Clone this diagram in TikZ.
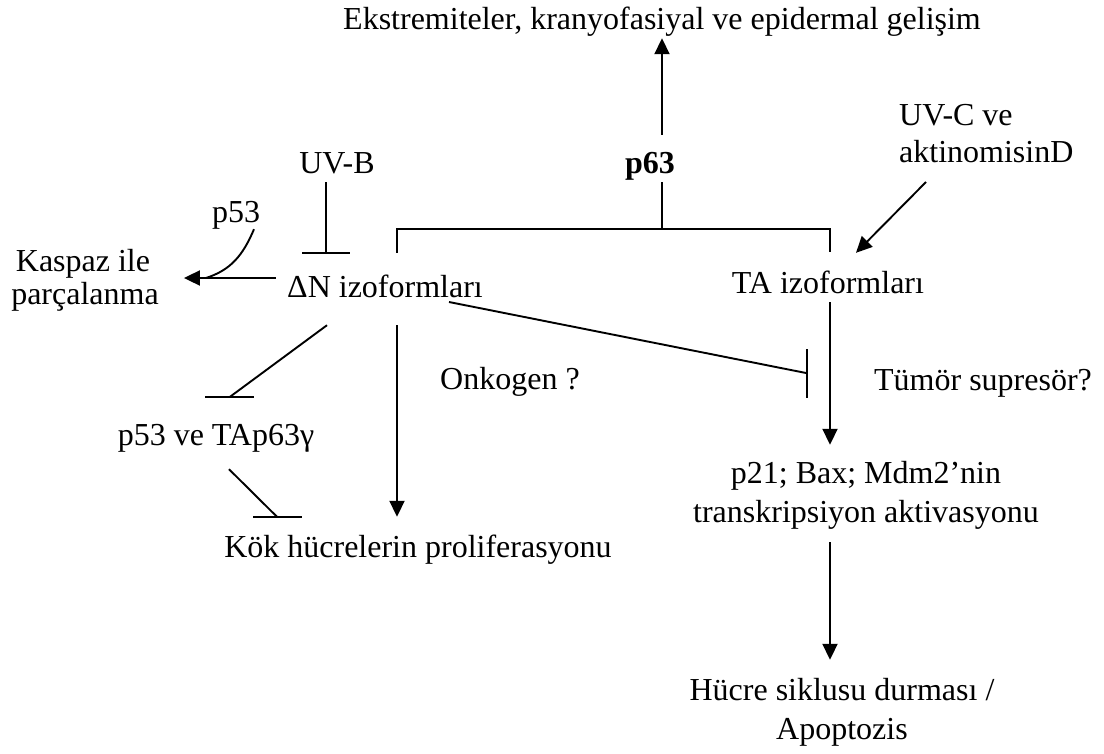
\documentclass[tikz,border=0pt]{standalone}
\usepackage{fontspec}
\setmainfont{Liberation Serif}
\usetikzlibrary{arrows.meta,calc}
\begin{document}
\begin{tikzpicture}[x=1pt,y=-1pt,
  txt/.style={font=\fontsize{32}{37}\selectfont, inner sep=0pt, text height=22pt, text depth=7pt, anchor=base},
  conn/.style={line width=1.9pt},
  arr/.style={conn, -{Triangle[length=16pt,width=15pt]}}]
\useasboundingbox (0,0) rectangle (1104,753);
% text nodes
\node[txt] (title) at (662,29) {Ekstremiteler, kranyofasiyal ve epidermal gelişim};
\node[txt,font=\fontsize{32}{37}\selectfont\bfseries] (p63) at (650,173) {p63};
\node[txt] (uvb) at (337,173) {UV-B};
\node[txt] (p53top) at (236,222) {p53};
\node[txt] (kaspaz1) at (83,271) {Kaspaz ile};
\node[txt] (kaspaz2) at (85,304) {parçalanma};
\node[txt] (dn) at (385,297) {ΔN izoformları};
\node[txt] (ta) at (828,293) {TA izoformları};
\node[txt,anchor=base west] (uvc1) at (899,125) {UV-C ve};
\node[txt,anchor=base west] (uvc2) at (899,162) {aktinomisinD};
\node[txt] (onk) at (510,389) {Onkogen ?};
\node[txt] (tumor) at (983,390) {Tümör supresör?};
\node[txt] (p53tap) at (216,445) {p53 ve TAp63γ};
\node[txt] (kok) at (418,557) {Kök hücrelerin proliferasyonu};
\node[txt] (p21a) at (866,483) {p21; Bax; Mdm2’nin};
\node[txt] (p21b) at (866,522) {transkripsiyon aktivasyonu};
\node[txt] (hucre1) at (842,700) {Hücre siklusu durması /};
\node[txt] (hucre2) at (842,739) {Apoptozis};
% helper coordinates
\coordinate (stem) at (662,0);
\coordinate (uvbx) at (326,0);
\coordinate (brL) at (397,229);
\coordinate (brR) at (830,229);
% p63 -> development
\draw[arr] ($(p63.north -| stem)+(0,-16)$) -- ($(title.south -| stem)+(0,2)$);
% bracket
\draw[conn] ($(p63.south -| stem)+(0,2)$) -- (stem |- brL);
\draw[conn] ($(dn.north -| brL)+(0,-22)$) -- (brL) -- (brR) -- ($(ta.north -| brR)+(0,-19)$);
% UV-B inhibits dN
\draw[conn] ($(uvb.south -| uvbx)+(0,2)$) -- ($(dn.north -| uvbx)+(0,-22)$) coordinate (ub);
\draw[conn] ($(ub)+(-24,0)$) -- ($(ub)+(24,0)$);
% dN -> Kaspaz
\coordinate (kt) at ($(kaspaz2.base east)+(25,-26)$);
\draw[arr] ($(dn.base west)+(-11,-19)$) -- (kt);
\draw[conn] ($(p53top.south)+(18,0)$) .. controls +(-11,26) and +(25,-8) .. ($(kt)+(22,0)$);
% dN inhibits p53 ve TAp63g
\draw[conn] ($(dn.south)+(-58,21)$) -- ($(p53tap.north)+(14,-26)$) coordinate (b1);
\draw[conn] ($(b1)+(-25,0)$) -- ($(b1)+(24,0)$);
% p53 ve TAp63g inhibits Kok
\draw[conn] ($(p53tap.south)+(13,17)$) -- ($(kok.north)+(-141,-18)$) coordinate (b2);
\draw[conn] ($(b2)+(-24,0)$) -- ($(b2)+(25,0)$);
% dN -> Kok
\draw[arr] ($(dn.south -| brL)+(0,21)$) -- ($(kok.north -| brL)+(0,-18)$);
% dN inhibits TA pathway
\draw[conn] ($(dn.base east)+(-34,5)$) -- ($(ta.south)+(-21,73)$) coordinate (b3);
\draw[conn] ($(b3)+(0,-24)$) -- ($(b3)+(0,25)$);
% TA -> p21
\draw[arr] ($(ta.south -| brR)+(0,2)$) -- ($(p21a.north -| brR)+(0,-16)$);
% p21 -> Hucre
\draw[arr] ($(p21b.south -| brR)+(0,13)$) -- ($(hucre1.north -| brR)+(0,-18)$);
% UV-C -> TA
\draw[arr] ($(uvc2.base west)+(27,20)$) -- ($(ta.north)+(28,-18)$);
\end{tikzpicture}
\end{document}
